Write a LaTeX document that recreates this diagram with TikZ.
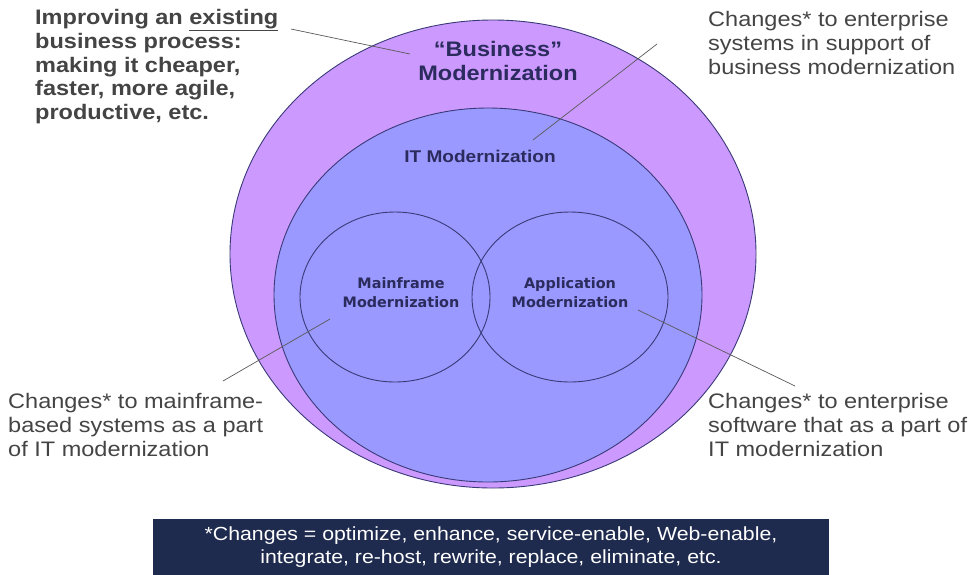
\documentclass[tikz,border=0pt]{standalone}
\usepackage{fontspec}
\setmainfont{Liberation Sans}[FakeStretch=1.12]
\newfontfamily\widesans{DejaVu Sans}
\definecolor{outerfill}{HTML}{CC99FF}
\definecolor{innerfill}{HTML}{9999FF}
\definecolor{edgec}{HTML}{3A3A78}
\definecolor{labelc}{HTML}{2B2B5E}
\definecolor{notec}{HTML}{444444}
\definecolor{boxc}{HTML}{1E2A4E}
\tikzset{
  ring/.style={draw=edgec, line width=0.9pt},
  lead/.style={draw=gray!70!black, line width=0.7pt},
  boldnote/.style={anchor=north west, inner sep=0pt, align=left, text=notec,
    font=\fontsize{21}{23.8}\selectfont\bfseries},
  note/.style={anchor=north west, inner sep=0pt, align=left, text=notec,
    font=\fontsize{21}{24}\selectfont},
  ringlabel/.style={text=labelc, align=center, inner sep=0pt},
}
\begin{document}
\begin{tikzpicture}[x=1pt, y=-1pt]
\useasboundingbox (0,0) rectangle (976,574);
% circles
\draw[ring, fill=outerfill] (493,254) ellipse [x radius=263, y radius=234];
\draw[ring, fill=innerfill] (488,295) ellipse [x radius=214, y radius=187];
\draw[ring] (395,297) ellipse [x radius=95, y radius=85];
\draw[ring] (570,297) ellipse [x radius=98, y radius=85];
% ring labels
\node[ringlabel, font=\fontsize{21}{24}\selectfont\bfseries] (bus) at (498,61) {“Business”\\Modernization};
\node[ringlabel, font=\fontsize{17}{20}\selectfont\bfseries] (it) at (480,156) {IT Modernization};
\node[ringlabel, font=\widesans\fontsize{14.4}{19}\selectfont\bfseries] (mf) at (401,293) {Mainframe\\Modernization};
\node[ringlabel, font=\widesans\fontsize{14.4}{19}\selectfont\bfseries] (app) at (570,293) {Application\\Modernization};
% notes
\node[boldnote] (n1) at (35,9) {Improving an \underline{existing}\\business process:\\making it cheaper,\\faster, more agile,\\productive, etc.};
\node[note] (n2) at (708,11) {Changes* to enterprise\\systems in support of\\business modernization};
\node[note] (n3) at (8,393) {Changes* to mainframe-\\based systems as a part\\of IT modernization};
\node[note] (n4) at (708,393) {Changes* to enterprise\\software that as a part of\\IT modernization};
% leader lines
\coordinate (a1) at (291,29); \coordinate (b1) at (410,54);
\coordinate (a2) at (657,44); \coordinate (b2) at (533,140);
\coordinate (a3) at (223,381); \coordinate (b3) at (330,319);
\coordinate (a4) at (795,386); \coordinate (b4) at (638,310);
\draw[lead] (a1) -- (b1);
\draw[lead] (a2) -- (b2);
\draw[lead] (a3) -- (b3);
\draw[lead] (a4) -- (b4);
% bottom box
\node[fill=boxc, text=white, minimum width=676pt, minimum height=56pt, inner sep=0pt,
  align=center, font=\fontsize{19}{23}\selectfont] (box) at (491,547)
  {*Changes = optimize, enhance, service-enable, Web-enable,\\integrate, re-host, rewrite, replace, eliminate, etc.};
\end{tikzpicture}
\end{document}
